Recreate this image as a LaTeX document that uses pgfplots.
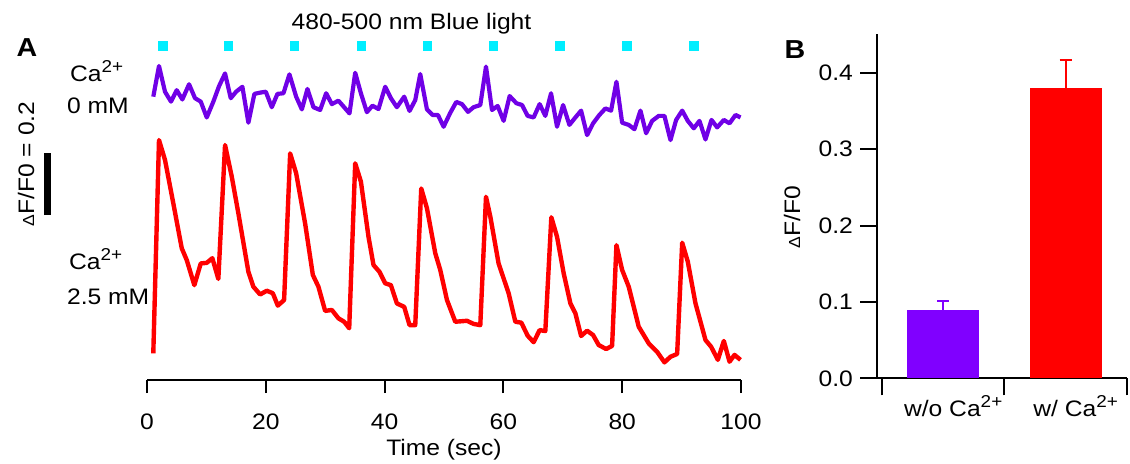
\documentclass[border=0pt]{standalone}
\usepackage{fontspec}
\setmainfont{Liberation Sans}[FakeStretch=1.1]
\usepackage{pgfplots}
\pgfplotsset{compat=1.18}
\definecolor{trpurple}{RGB}{112,0,230}
\definecolor{barpurple}{RGB}{128,0,255}
\definecolor{trred}{RGB}{255,0,0}
\definecolor{stimcyan}{RGB}{0,238,255}
\newcommand{\ca}{Ca\raisebox{0.75ex}{\fontsize{8.6}{10}\selectfont 2+}}

\begin{document}
\begin{tikzpicture}[font=\fontsize{11.2}{13.4}\selectfont]
\useasboundingbox (0,0) rectangle (565pt,-231.5pt);

% panel A: traces (hidden y axis, units of dF/F0, traces offset)
\begin{axis}[
  at={(73.5pt,-190pt)}, anchor=south west,
  width=297pt, height=170.5pt, scale only axis,
  xmin=0, xmax=100, ymin=0, ymax=1.1,
  axis x line*=bottom, axis y line=none,
  axis line style={-, line width=1pt},
  xtick={0,20,40,60,80,100},
  tick align=outside, major tick length=6.5pt,
  tick style={line width=1pt, black},
  xticklabel style={yshift=-7pt},
  /pgf/number format/assume math mode=true,
  clip=false,
]
% stimulus markers
\addplot[only marks, mark=square*, mark size=2.2pt, stimcyan] coordinates {
(2.7,1.077)(13.7,1.077)(24.8,1.077)(36.1,1.077)(47.2,1.077)
(58.3,1.077)(69.5,1.077)(80.8,1.077)(92.1,1.077)};

% 0 mM Ca2+
\addplot[trpurple, line width=2.1pt, line join=round] coordinates {
(1.06,0.914)(2.02,1.013)(3.03,0.930)(4.04,0.898)(5.00,0.935)(5.95,0.905)
(7.08,0.954)(8.09,0.909)(9.05,0.898)(10.06,0.847)(11.17,0.898)(12.13,0.948)
(13.14,0.989)(14.10,0.909)(15.00,0.930)(16.06,0.946)(17.07,0.830)(18.08,0.923)
(19.04,0.927)(20.00,0.930)(21.01,0.880)(21.96,0.923)(22.97,0.925)(23.98,0.986)
(25.11,0.914)(26.07,0.873)(27.01,0.939)(28.02,0.880)(29.15,0.871)(30.16,0.925)
(31.12,0.890)(32.23,0.901)(33.19,0.880)(34.09,0.860)(35.05,0.991)(36.01,0.925)
(37.02,0.864)(37.96,0.885)(38.97,0.874)(40.10,0.946)(41.06,0.909)(42.07,0.880)
(43.30,0.914)(44.20,0.868)(45.16,0.903)(46.00,0.987)(47.13,0.873)(48.07,0.855)
(48.98,0.855)(49.93,0.817)(51.06,0.862)(52.07,0.897)(53.03,0.890)(54.04,0.865)
(54.98,0.880)(56.11,0.887)(57.07,1.011)(58.08,0.871)(59.03,0.884)(60.04,0.836)
(61.05,0.916)(62.18,0.893)(63.14,0.887)(64.08,0.852)(65.09,0.847)(66.10,0.890)
(67.06,0.852)(68.02,0.925)(69.03,0.817)(70.05,0.887)(71.11,0.823)(72.12,0.847)
(73.08,0.869)(74.09,0.790)(75.10,0.828)(76.16,0.855)(77.17,0.876)(78.13,0.869)
(79.03,0.962)(79.99,0.830)(81.10,0.823)(82.06,0.809)(83.07,0.869)(84.03,0.796)
(85.04,0.836)(86.16,0.852)(87.11,0.852)(88.13,0.774)(89.08,0.839)(90.10,0.869)
(91.04,0.836)(92.05,0.812)(93.01,0.836)(94.02,0.776)(95.03,0.839)(95.99,0.815)
(97.11,0.839)(98.07,0.828)(99.08,0.855)(99.92,0.847)};

% 2.5 mM Ca2+
\addplot[trred, line width=2.2pt, line join=round] coordinates {
(1.06,0.086)(2.02,0.774)(3.03,0.710)(4.43,0.570)(5.85,0.425)(6.69,0.387)
(7.97,0.306)(9.05,0.376)(10.06,0.378)(11.00,0.393)(12.01,0.326)(13.14,0.758)
(14.27,0.656)(15.38,0.538)(17.07,0.349)(17.91,0.301)(19.04,0.276)(20.17,0.288)
(21.18,0.280)(22.02,0.240)(23.08,0.258)(24.10,0.731)(25.11,0.667)(26.62,0.505)
(27.92,0.339)(28.86,0.301)(29.99,0.223)(31.12,0.226)(32.23,0.199)(33.19,0.188)
(34.04,0.167)(35.05,0.699)(36.01,0.640)(37.29,0.462)(38.13,0.371)(39.14,0.349)
(40.10,0.312)(41.06,0.306)(42.07,0.247)(43.30,0.236)(44.20,0.177)(45.16,0.177)
(46.17,0.618)(47.13,0.554)(48.53,0.409)(49.37,0.355)(50.50,0.258)(51.90,0.188)
(53.87,0.191)(54.98,0.181)(56.11,0.177)(57.07,0.591)(57.80,0.527)(59.19,0.376)
(60.88,0.280)(62.01,0.188)(63.02,0.185)(64.08,0.143)(65.09,0.122)(66.10,0.161)
(67.06,0.158)(68.07,0.525)(69.03,0.462)(70.15,0.344)(71.28,0.247)(72.12,0.215)
(73.08,0.142)(74.09,0.159)(75.10,0.145)(76.04,0.113)(77.29,0.100)(78.30,0.110)
(79.03,0.435)(79.99,0.355)(81.10,0.301)(82.78,0.172)(84.47,0.118)(85.88,0.091)
(87.11,0.057)(88.13,0.075)(89.25,0.084)(90.10,0.443)(91.04,0.382)(92.34,0.247)
(94.02,0.129)(94.98,0.107)(96.10,0.065)(97.11,0.126)(98.07,0.059)(98.91,0.081)
(99.92,0.065)};

% scale bar: dF/F0 = 0.2
\draw[line width=3.5pt] (axis cs:-16.7,0.532) -- (axis cs:-16.7,0.732);
\end{axis}

% panel B: bars
\begin{axis}[
  at={(438.5pt,-189.2pt)}, anchor=south west,
  width=125pt, height=172pt, scale only axis,
  xmin=-0.54, xmax=1.5, ymin=0, ymax=0.45,
  axis x line*=bottom, axis y line*=left,
  axis line style={-, line width=1pt},
  xtick={-0.5,0.5,1.5}, xticklabels={},
  extra x ticks={0,1},
  extra x tick labels={w/o \ca, w/ \ca},
  extra x tick style={major tick length=0pt, tick label style={yshift=-5pt, xshift=5pt}},
  ytick={0,0.1,0.2,0.3,0.4},
  yticklabel style={/pgf/number format/.cd, fixed, fixed zerofill, precision=1},
  tick align=outside, major tick length=8.5pt,
  tick style={line width=1pt, black},
  /pgf/number format/assume math mode=true,
  clip=false,
]
\addplot[ybar, bar width=36pt, fill=barpurple, draw=none,
  error bars/.cd, y dir=plus, y explicit,
  error bar style={barpurple, line width=1pt},
  error mark options={barpurple, rotate=90, mark size=3pt, line width=1pt}]
  coordinates {(0,0.090) +- (0,0.011)};
\addplot[ybar, bar width=36pt, fill=trred, draw=none,
  error bars/.cd, y dir=plus, y explicit,
  error bar style={trred, line width=1pt},
  error mark options={trred, rotate=90, mark size=3pt, line width=1pt}]
  coordinates {(1,0.380) +- (0,0.037)};
\end{axis}

% labels and annotations
\node[anchor=base] at (205.75pt,-14.5pt) {480-500 nm Blue light};
\node[font=\fontsize{13}{15}\selectfont\bfseries] at (13.5pt,-24pt) {A};
\node[font=\fontsize{13}{15}\selectfont\bfseries] at (397.5pt,-25pt) {B};
\node[anchor=base west] at (31.5pt,-40.8pt) {\ca};
\node[anchor=base west] at (30pt,-56.5pt) {0 mM};
\node[anchor=base west] at (31pt,-134.5pt) {\ca};
\node[anchor=base west] at (30pt,-152pt) {2.5 mM};
\node[rotate=90] at (13pt,-82pt) {{\footnotesize Δ}F/F0 = 0.2};
\node[rotate=90] at (396pt,-108.5pt) {{\footnotesize Δ}F/F0};
\node[anchor=base] at (222pt,-227.5pt) {Time (sec)};
\end{tikzpicture}
\end{document}
